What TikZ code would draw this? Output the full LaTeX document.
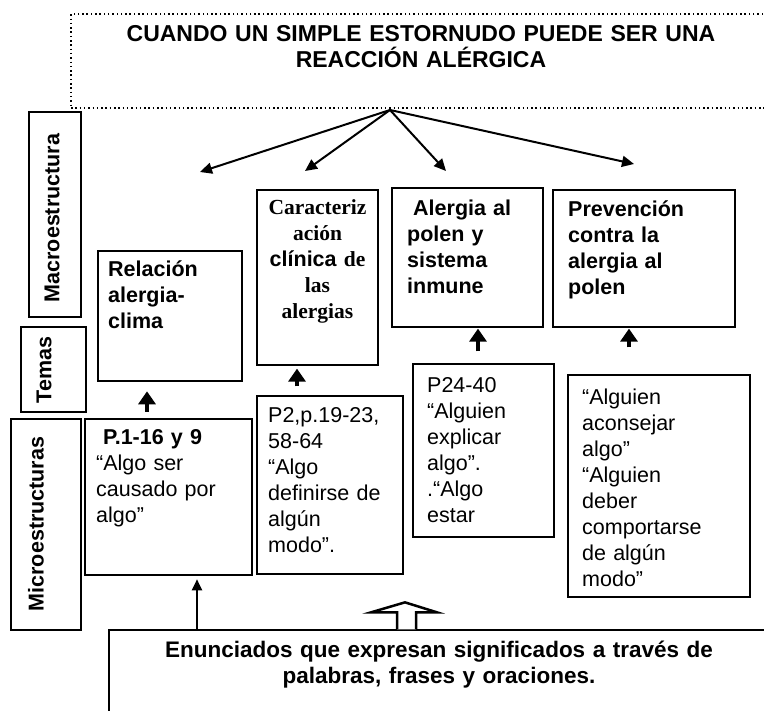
\documentclass[tikz,border=0pt]{standalone}
\usepackage{fontspec}
\setmainfont{Liberation Sans}
\newfontfamily\tnr{Liberation Serif}
\usetikzlibrary{arrows.meta}
\newcommand\bodyfs{\fontsize{21.5}{26}\selectfont}
\begin{document}
\begin{tikzpicture}[x=1pt,y=-1pt,
  frame/.style={draw, line width=1.3pt, inner sep=0pt},
  thickframe/.style={draw, line width=2.6pt, inner sep=0pt},
  dotframe/.style={draw, line width=1.5pt, dash pattern=on 1.5pt off 2.8pt, inner sep=0pt},
  txt/.style={inner sep=0pt, anchor=base west, align=left, font=\bodyfs},
  vlabel/.style={inner sep=0pt, rotate=90, font=\bodyfs\bfseries},
  toparrow/.style={line width=2pt, -{Triangle[length=12pt,width=11pt]}},
  uparrow/.style={line width=4pt, -{Triangle[length=13pt,width=17pt]}},
  thinarrow/.style={line width=2pt, -{Triangle[length=11pt,width=10pt]}}
]
\useasboundingbox (0,0) rectangle (764,711);
\clip (0,0) rectangle (764,711);

% title
\node[dotframe, minimum width=729pt, minimum height=94pt] (title) at (435.5,61) {};
\node[inner sep=0pt, anchor=base, align=center, text width=660pt, font=\fontsize{23}{25.5}\selectfont\bfseries] (titleT) at (421,42)
  {CUANDO UN SIMPLE ESTORNUDO PUEDE SER UNA\\REACCIÓN ALÉRGICA};

% side labels
\node[frame, minimum width=52pt, minimum height=205pt] (mac) at (55,214.5) {};
\node[vlabel] (macT) at (52,218) {Macroestructura};
\node[frame, minimum width=65pt, minimum height=85pt] (tem) at (53.5,369.5) {};
\node[vlabel] (temT) at (44,370) {Temas};
\node[frame, minimum width=70pt, minimum height=211pt] (mic) at (46,524.5) {};
\node[vlabel] (micT) at (36,524) {Microestructuras};

% theme boxes
\node[thickframe, minimum width=144pt, minimum height=130pt] (rel) at (170,316) {};
\node[txt, text width=130pt, font=\bodyfs\bfseries] (relT) at (108,277) {Relación\\alergia-\\clima};

\node[frame, minimum width=121pt, minimum height=175pt] (car) at (317.5,277.5) {};
\node[inner sep=0pt, anchor=base, align=center, font=\bodyfs\bfseries, text width=121pt] (carT) at (317.5,215)
  {{\tnr Caracteriz}\\{\tnr ación}\\clínica {\tnr de}\\{\tnr las}\\{\tnr alergias}};

\node[frame, minimum width=151pt, minimum height=139pt] (ale) at (467.5,257.5) {};
\node[txt, text width=135pt, font=\bodyfs\bfseries] (aleT) at (407,216) {\hspace*{6pt}Alergia al\\polen y\\sistema\\inmune};

\node[frame, minimum width=182pt, minimum height=137pt] (pre) at (644,258.5) {};
\node[txt, text width=165pt, font=\bodyfs\bfseries] (preT) at (568,217) {Prevención\\contra la\\alergia al\\polen};

% micro boxes
\node[thickframe, minimum width=167pt, minimum height=156pt] (p1) at (168.5,497) {};
\node[txt, text width=150pt] (p1T) at (96,445) {\hspace*{7pt}\textbf{P.1-16 y 9}\\“Algo ser\\causado por\\algo”};

\node[frame, minimum width=146pt, minimum height=178pt] (p2) at (330,485) {};
\node[txt, text width=132pt] (p2T) at (268,423) {P2,p.19-23,\\58-64\\“Algo\\definirse de\\algún\\modo”.};

\node[frame, minimum width=141pt, minimum height=173pt] (p24) at (483.5,450.5) {};
\node[txt, text width=125pt] (p24T) at (427,393) {P24-40\\“Alguien\\explicar\\algo”.\\.“Algo\\estar};

\node[frame, minimum width=182pt, minimum height=222pt] (pa) at (659,486) {};
\node[txt, text width=165pt] (paT) at (582,405) {“Alguien\\aconsejar\\algo”\\“Alguien\\deber\\comportarse\\de algún\\modo”};

% bottom box
\node[frame, minimum width=691pt, minimum height=110pt] (bot) at (454.5,685) {};
\node[inner sep=0pt, anchor=base, align=center, text width=640pt, font=\fontsize{22.5}{26}\selectfont\bfseries] (botT) at (439,657)
  {Enunciados que expresan significados a través de\\palabras, frases y oraciones.};

% arrows from title
\coordinate (hub) at (390,110);
\coordinate (e1) at (200,172);
\coordinate (e2) at (305,171);
\coordinate (e3) at (446,171);
\coordinate (e4) at (634,164);
\draw[toparrow] (hub) -- (e1);
\draw[toparrow] (hub) -- (e2);
\draw[toparrow] (hub) -- (e3);
\draw[toparrow] (hub) -- (e4);

% up arrows between levels
\draw[uparrow, shorten <=6pt, shorten >=9pt] ([xshift=-21.5pt]p1.north) -- ([xshift=-23pt]rel.south);
\draw[uparrow, shorten <=9pt, shorten >=3pt] ([xshift=-33pt]p2.north) -- ([xshift=-20.5pt]car.south);
\draw[uparrow, shorten <=12pt, shorten >=1pt] ([xshift=-5.5pt]p24.north) -- ([xshift=10.5pt]ale.south);
\draw[uparrow, shorten <=27pt, shorten >=1pt] ([xshift=-30pt]pa.north) -- ([xshift=-15pt]pre.south);

% arrows from bottom box
\draw[thinarrow, shorten >=3pt] ([xshift=-257.5pt]bot.north) -- ([xshift=28.5pt]p1.south);
\coordinate (hol) at ([xshift=-49.5pt]bot.north);
\draw[line width=2.5pt, fill=white, line join=miter, shift={(hol)}]
  (-8,0) -- (-8,-17) -- (-34,-17) -- (0,-27) -- (32,-17) -- (11,-17) -- (11,0);
\end{tikzpicture}
\end{document}
